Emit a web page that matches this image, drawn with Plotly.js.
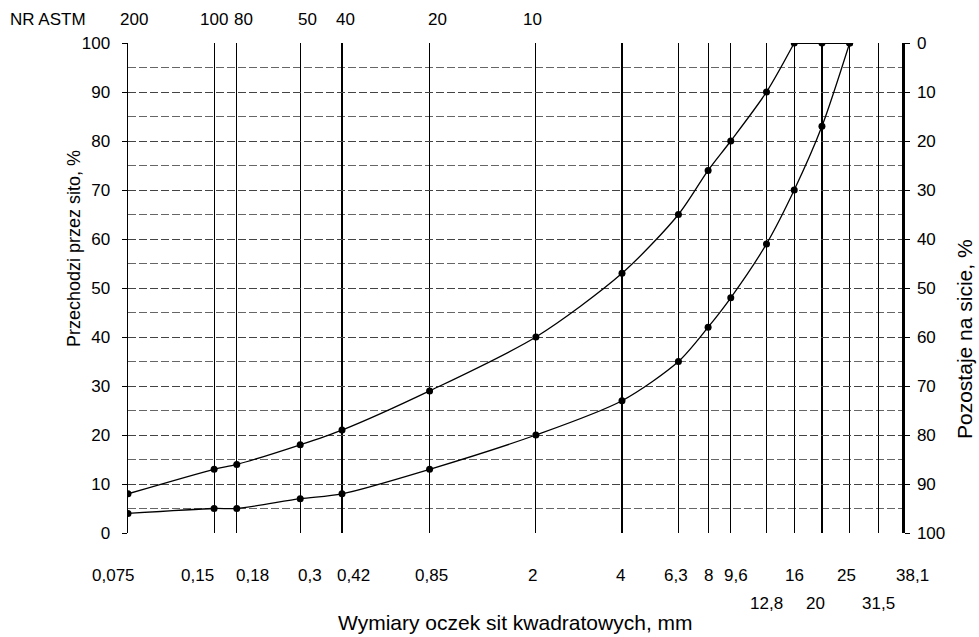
<!DOCTYPE html>
<html><head><meta charset="utf-8">
<script src="https://cdn.plot.ly/plotly-3.0.1.min.js"></script>
<style>html,body{margin:0;padding:0;background:#fff}</style>
</head><body><div id="chart" style="width:979px;height:637px"></div>
<script>
// ---- data ----
const sieveSizes = [0.075, 0.15, 0.18, 0.3, 0.42, 0.85, 2, 4, 6.3, 8, 9.6, 12.8, 16, 20, 25, 31.5, 38.1];
const sieveLabels = ['0,075', '0,15', '0,18', '0,3', '0,42', '0,85', '2', '4', '6,3', '8', '9,6', '12,8', '16', '20', '25', '31,5', '38,1'];
const pointSizes = [0.075, 0.15, 0.18, 0.3, 0.42, 0.85, 2, 4, 6.3, 8, 9.6, 12.8, 16, 20, 25];
const upperPassing = [8, 13, 14, 18, 21, 29, 40, 53, 65, 74, 80, 90, 100, 100, 100];
const lowerPassing = [4, 5, 5, 7, 8, 13, 20, 27, 35, 42, 48, 59, 70, 83, 100];
const astmSizes = [0.075, 0.15, 0.18, 0.3, 0.42, 0.85, 2];
const astmNumbers = ['200', '100', '80', '50', '40', '20', '10'];
const passingTicks = [0, 10, 20, 30, 40, 50, 60, 70, 80, 90, 100];
const retainedTicks = [0, 10, 20, 30, 40, 50, 60, 70, 80, 90, 100];

// ---- styles (label placement) ----
const labelRow = [1, 1, 1, 1, 1, 1, 1, 1, 1, 1, 1, 2, 1, 2, 1, 2, 1];
const labelShift = [-15, -17, 16, 10, 11, 2, -3, -2, -2, 0, 5, 0, 0, -6, -3, 0, 10];
const astmShift = [6, 0, 7, 7, 3, 8, -3];

const FONT = 'Arial, "Liberation Sans", sans-serif';
const nFlat = pointSizes.length - 3; // index where flat top begins (16 mm)

const traces = [
  { x: pointSizes.slice(0, nFlat + 1), y: upperPassing.slice(0, nFlat + 1), type: 'scatter', mode: 'lines',
    line: { color: '#000', width: 1.3, shape: 'spline', smoothing: 0.8 }, hoverinfo: 'skip', showlegend: false },
  { x: pointSizes.slice(nFlat), y: upperPassing.slice(nFlat), type: 'scatter', mode: 'lines',
    line: { color: '#000', width: 2.2 }, hoverinfo: 'skip', showlegend: false },
  { x: pointSizes, y: lowerPassing, type: 'scatter', mode: 'lines',
    line: { color: '#000', width: 1.3, shape: 'spline', smoothing: 0.8 }, hoverinfo: 'skip', showlegend: false },
  { x: pointSizes, y: upperPassing, type: 'scatter', mode: 'markers',
    marker: { color: '#000', size: 7 }, showlegend: false },
  { x: pointSizes, y: lowerPassing, type: 'scatter', mode: 'markers',
    marker: { color: '#000', size: 7 }, showlegend: false },
  { x: [sieveSizes[0]], y: [retainedTicks[0]], yaxis: 'y2', type: 'scatter', mode: 'markers',
    marker: { opacity: 0 }, hoverinfo: 'skip', showlegend: false }
];

const annotations = [];
sieveSizes.forEach((s, i) => {
  annotations.push({
    x: Math.log10(s), xref: 'x', y: 0, yref: 'paper', yanchor: 'middle', xanchor: 'center',
    yshift: labelRow[i] === 1 ? -42 : -70, xshift: labelShift[i],
    text: sieveLabels[i], showarrow: false, font: { family: FONT, size: 17, color: '#000' }
  });
});
astmSizes.forEach((s, i) => {
  annotations.push({
    x: Math.log10(s), xref: 'x', y: 1, yref: 'paper', yanchor: 'middle', xanchor: 'center',
    yshift: 24, xshift: astmShift[i],
    text: astmNumbers[i], showarrow: false, font: { family: FONT, size: 17, color: '#000' }
  });
});
annotations.push({
  x: 0, xref: 'paper', y: 1, yref: 'paper', xanchor: 'center', yanchor: 'middle',
  xshift: -80, yshift: 24, text: 'NR ASTM', showarrow: false, font: { family: FONT, size: 17, color: '#000' }
});
annotations.push({
  x: 0.5, xref: 'paper', y: 0, yref: 'paper', xanchor: 'center', yanchor: 'middle',
  xshift: 0, yshift: -89, text: 'Wymiary oczek sit kwadratowych, mm', showarrow: false,
  font: { family: FONT, size: 21, color: '#000' }
});
annotations.push({
  x: 0, xref: 'paper', y: 0.5, yref: 'paper', xanchor: 'center', yanchor: 'middle', textangle: -90,
  xshift: -54, yshift: 39, text: 'Przechodzi przez sito, %', showarrow: false,
  font: { family: FONT, size: 18, color: '#000' }
});
annotations.push({
  x: 1, xref: 'paper', y: 0.5, yref: 'paper', xanchor: 'center', yanchor: 'middle', textangle: -90,
  xshift: 62, yshift: -51, text: 'Pozostaje na sicie, %', showarrow: false,
  font: { family: FONT, size: 21, color: '#000' }
});

const layout = {
  width: 979, height: 637, autosize: false,
  margin: { l: 128, r: 77, t: 43, b: 104, pad: 0 },
  paper_bgcolor: '#fff', plot_bgcolor: '#fff',
  font: { family: FONT, size: 16, color: '#000' },
  xaxis: {
    type: 'log', range: [Math.log10(sieveSizes[0]), Math.log10(sieveSizes[sieveSizes.length - 1])],
    tickvals: sieveSizes, showticklabels: false, ticks: '',
    showgrid: true, gridcolor: '#000', gridwidth: 1.2,
    showline: false, zeroline: false, fixedrange: true
  },
  yaxis: {
    range: [0, 100], tickvals: passingTicks, ticks: 'outside', ticklen: 5, tickcolor: '#000',
    ticklabelstandoff: 8,
    showline: true, linecolor: '#000', linewidth: 1.5,
    showgrid: true, gridcolor: '#444', gridwidth: 1, griddash: '8px,3px',
    minor: { tickvals: [5, 15, 25, 35, 45, 55, 65, 75, 85, 95], showgrid: true, gridcolor: '#666', gridwidth: 1, griddash: '8px,3px' },
    zeroline: false,
    tickfont: { family: FONT, size: 17, color: '#000' }
  },
  yaxis2: {
    overlaying: 'y', side: 'right', anchor: 'x', range: [100, 0], tickvals: retainedTicks,
    ticks: 'outside', ticklen: 5, tickcolor: '#000', ticklabelstandoff: 4,
    showline: true, linecolor: '#000', linewidth: 2.5, showgrid: false, zeroline: false,
    tickfont: { family: FONT, size: 17, color: '#000' }
  },
  annotations: annotations,
  showlegend: false
};

Plotly.newPlot('chart', traces, layout, { displayModeBar: false, staticPlot: true });
</script>
</body></html>
